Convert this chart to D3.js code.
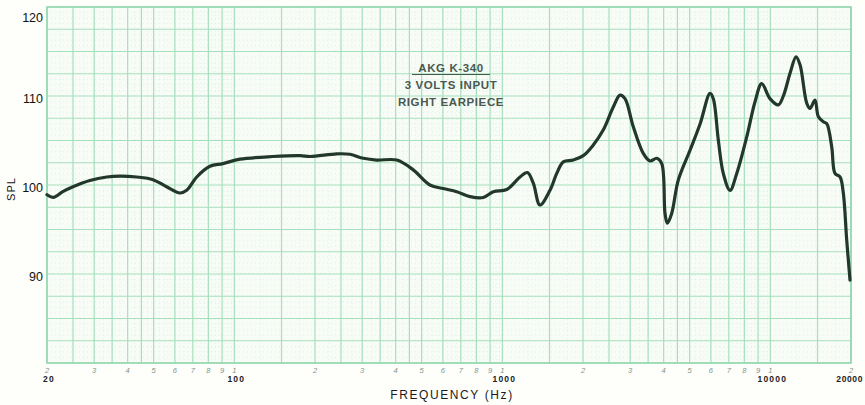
<!DOCTYPE html>
<html><head><meta charset="utf-8">
<script src="https://cdn.jsdelivr.net/npm/d3@7"></script>
<style>
html,body{margin:0;padding:0;background:#fefefb;}
svg{display:block;font-family:"Liberation Sans",Arial,sans-serif;}
</style></head>
<body>
<svg id="c" width="865" height="405"></svg>
<script>
// ---- data ----
const freq = [20, 21.1, 22.9, 25, 28.9, 33.4, 37.5, 43.2, 49.7, 55.9, 62.7, 66.4, 72.4, 81.1, 90.7, 105, 139, 176, 192, 241, 270, 303, 340, 404, 465, 537, 602, 676, 758, 849, 926, 1039, 1164, 1240, 1305, 1382, 1506, 1596, 1689, 1840, 2005, 2185, 2382, 2597, 2749, 2869, 3081, 3357, 3557, 3768, 3934, 4046, 4127, 4285, 4536, 5016, 5468, 5956, 6127, 6396, 6676, 7074, 7493, 8164, 8768, 9288, 9970, 10712, 11184, 11846, 12472, 12908, 13672, 14062, 14680, 15102, 15766, 16230, 16944, 17432, 18198, 18720, 19278, 19830];
const spl = [98.9, 98.6, 99.25, 99.8, 100.5, 100.9, 101.0, 100.9, 100.6, 99.8, 99.1, 99.4, 100.9, 102.1, 102.4, 102.9, 103.2, 103.3, 103.2, 103.5, 103.45, 103.0, 102.8, 102.8, 101.7, 100.0, 99.6, 99.25, 98.7, 98.6, 99.25, 99.5, 100.9, 101.4, 100.2, 97.75, 99.4, 101.3, 102.6, 102.8, 103.3, 104.5, 106.2, 108.8, 110.1, 109.7, 106.55, 103.56, 102.7, 103.0, 102.4, 96.8, 95.7, 96.8, 100.56, 103.9, 106.85, 110.3, 109.7, 105.06, 101.3, 99.4, 101.3, 105.4, 109.36, 111.4, 109.7, 109.0, 110.0, 112.55, 114.4, 113.5, 109.2, 108.6, 109.55, 107.7, 107.1, 106.9, 104.3, 101.3, 100.9, 99.1, 93.8, 89.3];
const yTicks = [90, 100, 110, 120];
const decades = [10, 100, 1000, 10000];
const gridMult = [1, 1.5, 2, 2.5, 3, 3.5, 4, 4.5, 5, 6, 7, 8, 9];
const digitMult = [1, 2, 3, 4, 5, 6, 7, 8, 9];
const bigLabels = [20, 100, 1000, 10000, 20000];
const titleLines = ["AKG  K-340", "3 VOLTS INPUT", "RIGHT EARPIECE"];

// ---- scales ----
const x = d3.scaleLog().domain([20, 20000]).range([47, 851]);
const y = d3.scaleLinear().domain([80, 120]).range([363, 7]);
const svg = d3.select("#c");

svg.append("rect").attr("x", x(20)).attr("y", y(120))
  .attr("width", x(20000) - x(20)).attr("height", y(80) - y(120))
  .attr("fill", "#f8fcf6");

const g = svg.append("g");
// minor dotted horizontal lines
d3.range(80, 120.01, 0.625).forEach(v => {
  if (Math.abs(v / 2.5 - Math.round(v / 2.5)) > 1e-6) g.append("line").attr("x1", x(20)).attr("x2", x(20000))
    .attr("y1", y(v)).attr("y2", y(v)).attr("stroke", "#cfeedb").attr("stroke-width", 0.6)
    .attr("stroke-dasharray", "1,3");
});
// minor dotted vertical lines
const minorV = [];
decades.forEach(d => d3.range(1, 10, 0.25).forEach(m => { const f = d * m; if (f > 20 && f < 20000 && !gridMult.includes(+m.toFixed(2))) minorV.push(f); }));
minorV.forEach(f => g.append("line").attr("x1", x(f)).attr("x2", x(f))
  .attr("y1", y(120)).attr("y2", y(80)).attr("stroke", "#cfeedb").attr("stroke-width", 0.6)
  .attr("stroke-dasharray", "1,3"));
// major horizontal
d3.range(80, 120.01, 2.5).forEach(v => g.append("line").attr("x1", x(20)).attr("x2", x(20000))
  .attr("y1", y(v)).attr("y2", y(v)).attr("stroke", "#a6dfbd").attr("stroke-width", 1.2));
// major vertical
const majorV = [];
decades.forEach(d => gridMult.forEach(m => { const f = d * m; if (f >= 20 && f <= 20000) majorV.push(f); }));
majorV.push(20000);
majorV.forEach(f => g.append("line").attr("x1", x(f)).attr("x2", x(f))
  .attr("y1", y(120)).attr("y2", y(80)).attr("stroke", "#a6dfbd").attr("stroke-width", 1.2));
// border
svg.append("rect").attr("x", x(20)).attr("y", y(120))
  .attr("width", x(20000) - x(20)).attr("height", y(80) - y(120))
  .attr("fill", "none").attr("stroke", "#93d6ae").attr("stroke-width", 1.5);

// y labels
yTicks.forEach(v => svg.append("text").attr("x", 43).attr("y", y(v) + (v === 120 ? 15 : 7))
  .attr("text-anchor", "end").attr("font-size", 12.5).attr("fill", "#111").text(v));
svg.append("text").attr("transform", "translate(15,189) rotate(-90)")
  .attr("text-anchor", "middle").attr("font-size", 11).attr("letter-spacing", 1).attr("fill", "#111").text("SPL");

// small digit labels
decades.forEach(d => digitMult.forEach(m => { const f = d * m; if (f >= 20 && f <= 20000)
  svg.append("text").attr("x", x(f)).attr("y", 373).attr("text-anchor", "middle")
    .attr("font-size", 7.5).attr("font-style", "italic").attr("fill", "#7f9488").text(m); }));
bigLabels.forEach(f => {
  const last = f === 20000;
  svg.append("text").attr("x", last ? 863 : x(f) + 2).attr("y", 382)
    .attr("text-anchor", last ? "end" : "middle")
    .attr("font-size", 8.5).attr("font-weight", "bold").attr("letter-spacing", last ? 0.6 : 1.2)
    .attr("fill", "#222").text(f);
});
svg.append("text").attr("x", 452).attr("y", 399).attr("text-anchor", "middle")
  .attr("font-size", 12).attr("letter-spacing", 1.6).attr("fill", "#1a1a1a").text("FREQUENCY (Hz)");

// title block
titleLines.forEach((t, i) => svg.append("text").attr("x", 451).attr("y", 72 + i * 17)
  .attr("text-anchor", "middle").attr("font-size", 11.5).attr("font-weight", "bold").attr("letter-spacing", 0.6)
  .attr("fill", "#4a5950").text(t));
svg.append("line").attr("x1", 412).attr("x2", 490).attr("y1", 74.5).attr("y2", 74.5)
  .attr("stroke", "#4a5950").attr("stroke-width", 1);

// curve
const pts = freq.map((f, i) => [f, spl[i]]);
svg.append("path").datum(pts)
  .attr("d", d3.line().x(d => x(d[0])).y(d => y(d[1])).curve(d3.curveCatmullRom.alpha(0.5)))
  .attr("fill", "none").attr("stroke", "#21382b").attr("stroke-width", 3.2)
  .attr("stroke-linejoin", "round").attr("stroke-linecap", "round");
</script>
</body></html>
